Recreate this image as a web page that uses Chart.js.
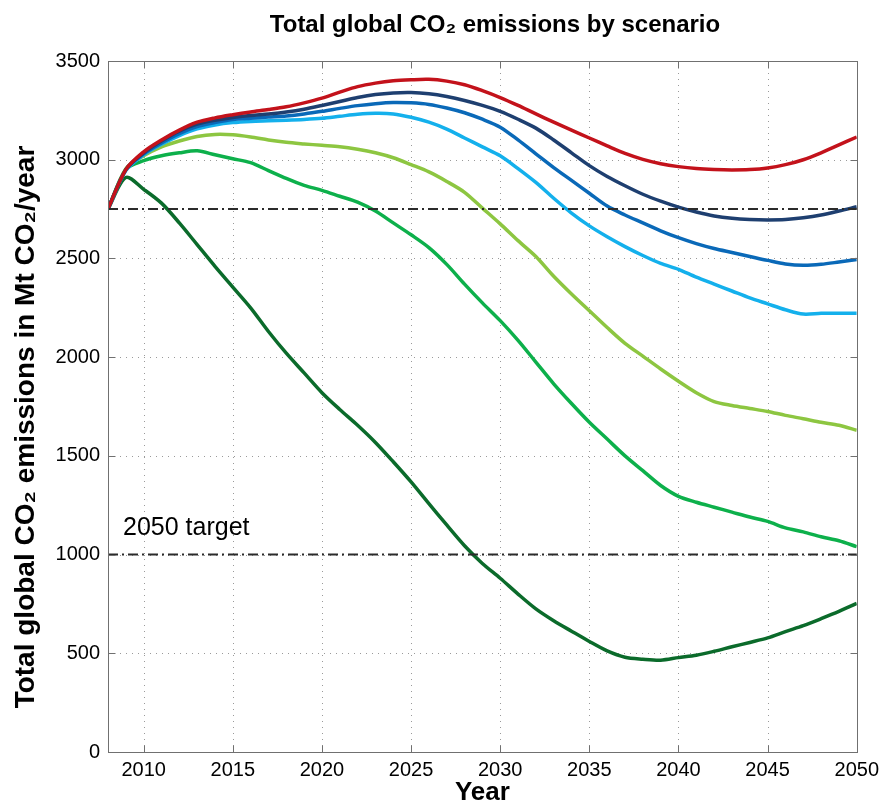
<!DOCTYPE html>
<html>
<head>
<meta charset="utf-8">
<title>Total global CO₂ emissions by scenario</title>
<script src="https://cdn.jsdelivr.net/npm/chart.js@4.4.1/dist/chart.umd.min.js"></script>
<style>
  html, body { margin: 0; padding: 0; background: #ffffff; }
  canvas { display: block; }
</style>
</head>
<body>
<canvas id="chart" width="885" height="802"></canvas>
<script>
// Years on the horizontal axis
const years = [2008, 2009, 2010, 2011, 2012, 2013, 2014, 2015, 2016, 2017,
               2018, 2019, 2020, 2021, 2022, 2023, 2024, 2025, 2026, 2027,
               2028, 2029, 2030, 2031, 2032, 2033, 2034, 2035, 2036, 2037,
               2038, 2039, 2040, 2041, 2042, 2043, 2044, 2045, 2046, 2047,
               2048, 2049, 2050];

// Total emissions per scenario, Mt CO2 / year
const scenario1 = [2750, 2950, 3040, 3100, 3150, 3190, 3212, 3228, 3242, 3254,
                   3268, 3288, 3312, 3342, 3370, 3388, 3400, 3405, 3407, 3398,
                   3380, 3350, 3315, 3275, 3232, 3190, 3150, 3110, 3070, 3032,
                   3002, 2980, 2965, 2955, 2950, 2948, 2950, 2958, 2975, 3000,
                   3035, 3075, 3115];
const scenario2 = [2750, 2950, 3035, 3095, 3145, 3180, 3200, 3214, 3224, 3232,
                   3242, 3256, 3275, 3295, 3315, 3330, 3338, 3340, 3334, 3320,
                   3300, 3275, 3245, 3205, 3160, 3100, 3035, 2970, 2915, 2868,
                   2825, 2790, 2760, 2735, 2715, 2703, 2697, 2695, 2697, 2706,
                   2720, 2740, 2762];
const scenario3 = [2750, 2950, 3030, 3085, 3132, 3168, 3188, 3203, 3210, 3216,
                   3222, 3232, 3245, 3260, 3274, 3284, 3290, 3288, 3280, 3262,
                   3238, 3205, 3165, 3100, 3030, 2960, 2895, 2830, 2765, 2720,
                   2680, 2640, 2605, 2575, 2550, 2530, 2510, 2490, 2472, 2465,
                   2470, 2482, 2495];
const scenario4 = [2750, 2945, 3025, 3078, 3122, 3156, 3176, 3188, 3194, 3197,
                   3200, 3204, 3210, 3220, 3230, 3235, 3232, 3215, 3190, 3155,
                   3110, 3065, 3020, 2955, 2885, 2805, 2730, 2665, 2610, 2560,
                   2515, 2475, 2445, 2405, 2370, 2335, 2300, 2270, 2240, 2218,
                   2222, 2222, 2222];
const scenario5 = [2750, 2955, 3020, 3065, 3095, 3118, 3128, 3126, 3115, 3100,
                   3088, 3080, 3073, 3066, 3053, 3035, 3010, 2975, 2938, 2890,
                   2835, 2755, 2675, 2590, 2510, 2410, 2320, 2235, 2150, 2070,
                   2005, 1940, 1878, 1820, 1775, 1755, 1740, 1725, 1705, 1688,
                   1670, 1655, 1630];
const scenario6 = [2750, 2950, 2995, 3020, 3035, 3045, 3025, 3005, 2985, 2945,
                   2905, 2870, 2845, 2815, 2785, 2740, 2680, 2620, 2555, 2470,
                   2370, 2275, 2185, 2085, 1975, 1865, 1765, 1670, 1585, 1500,
                   1425, 1350, 1295, 1265, 1240, 1215, 1190, 1168, 1135, 1115,
                   1090, 1070, 1040];
const scenario7 = [2750, 2910, 2850, 2780, 2680, 2570, 2460, 2355, 2250, 2130,
                   2020, 1920, 1820, 1735, 1655, 1568, 1470, 1368, 1258, 1150,
                   1045, 955, 880, 800, 725, 665, 612, 560, 512, 480,
                   470, 465, 478, 490, 510, 533, 555, 578, 610, 640,
                   675, 712, 753];

// Reference levels
const currentLevel = 2750;
const targetLevel = 1000;
const targetLabel = '2050 target';

// Tick values
const xTickValues = [2010, 2015, 2020, 2025, 2030, 2035, 2040, 2045, 2050];
const yTickValues = [0, 500, 1000, 1500, 2000, 2500, 3000, 3500];

const chartTitle = 'Total global CO₂ emissions by scenario';
const yAxisTitle = 'Total global CO₂ emissions in Mt CO₂/year';
const xAxisTitle = 'Year';

const FONT = "'Liberation Sans', Arial, Helvetica, sans-serif";

const seriesList = [
  { label: 'Scenario 1', data: scenario1, color: '#C3121B' },
  { label: 'Scenario 2', data: scenario2, color: '#1E3F70' },
  { label: 'Scenario 3', data: scenario3, color: '#0A69B8' },
  { label: 'Scenario 4', data: scenario4, color: '#14B0EC' },
  { label: 'Scenario 5', data: scenario5, color: '#8DC641' },
  { label: 'Scenario 6', data: scenario6, color: '#0DB04B' },
  { label: 'Scenario 7', data: scenario7, color: '#0B6B2B' }
];

// Axes frame, inner tick marks, dotted grid and reference lines
const framePlugin = {
  id: 'axesFrame',
  beforeDatasetsDraw(chart) {
    const { ctx, chartArea: a, scales: { x, y } } = chart;
    ctx.save();
    ctx.strokeStyle = '#9a9a9a';
    ctx.lineWidth = 1;
    ctx.setLineDash([1, 5]);
    xTickValues.forEach(v => {
      const px = Math.round(x.getPixelForValue(v)) + 0.5;
      if (px > a.left + 2 && px < a.right - 2) {
        ctx.beginPath(); ctx.moveTo(px, a.bottom); ctx.lineTo(px, a.top); ctx.stroke();
      }
    });
    yTickValues.forEach(v => {
      const py = Math.round(y.getPixelForValue(v)) + 0.5;
      if (py > a.top + 2 && py < a.bottom - 2) {
        ctx.beginPath(); ctx.moveTo(a.left, py); ctx.lineTo(a.right, py); ctx.stroke();
      }
    });
    ctx.restore();
  },
  afterDatasetsDraw(chart) {
    const { ctx, chartArea: a, scales: { x, y } } = chart;
    ctx.save();
    // dash-dot reference levels
    ctx.strokeStyle = '#2b2b2b';
    ctx.lineWidth = 2;
    ctx.setLineDash([10, 4, 2, 4]);
    [currentLevel, targetLevel].forEach(v => {
      const py = y.getPixelForValue(v);
      ctx.beginPath(); ctx.moveTo(a.left, py); ctx.lineTo(a.right, py); ctx.stroke();
    });
    ctx.setLineDash([]);

    // box
    const L = Math.round(a.left) + 0.5, R = Math.round(a.right) + 0.5;
    const T = Math.round(a.top) + 0.5, B = Math.round(a.bottom) + 0.5;
    ctx.strokeStyle = '#707070';
    ctx.lineWidth = 1;
    ctx.strokeRect(L, T, R - L, B - T);

    // inner ticks on all four sides
    const tl = 7;
    ctx.beginPath();
    xTickValues.forEach(v => {
      const px = Math.round(x.getPixelForValue(v)) + 0.5;
      ctx.moveTo(px, B); ctx.lineTo(px, B - tl);
      ctx.moveTo(px, T); ctx.lineTo(px, T + tl);
    });
    yTickValues.forEach(v => {
      const py = Math.round(y.getPixelForValue(v)) + 0.5;
      ctx.moveTo(L, py); ctx.lineTo(L + tl, py);
      ctx.moveTo(R, py); ctx.lineTo(R - tl, py);
    });
    ctx.stroke();

    // target annotation
    ctx.fillStyle = '#000';
    ctx.font = '25px ' + FONT;
    ctx.textAlign = 'left';
    ctx.textBaseline = 'alphabetic';
    ctx.fillText(targetLabel, x.getPixelForValue(2008) + 15, y.getPixelForValue(targetLevel) - 20);
    ctx.restore();
  },
  afterDraw(chart) {
    const { ctx } = chart;
    ctx.save();
    ctx.fillStyle = '#000';
    ctx.font = 'bold 24px ' + FONT;
    ctx.textAlign = 'center';
    ctx.textBaseline = 'alphabetic';
    ctx.fillText(chartTitle, 495, 32);

    ctx.translate(34, 427);
    ctx.rotate(-Math.PI / 2);
    ctx.font = 'bold 28px ' + FONT;
    ctx.fillText(yAxisTitle, 0, 0);
    ctx.restore();
  }
};

new Chart(document.getElementById('chart'), {
  type: 'line',
  data: {
    datasets: seriesList.map(s => ({
      label: s.label,
      data: years.map((yr, i) => ({ x: yr, y: s.data[i] })),
      borderColor: s.color,
      backgroundColor: s.color,
      borderWidth: 3.5,
      pointRadius: 0,
      tension: 0.3,
      fill: false
    }))
  },
  options: {
    responsive: false,
    animation: false,
    devicePixelRatio: 1,
    layout: { padding: { left: 0, right: 27, top: 61, bottom: 0 } },
    plugins: {
      legend: { display: false },
      title: { display: false },
      tooltip: { enabled: false }
    },
    scales: {
      x: {
        type: 'linear',
        min: 2008,
        max: 2050,
        grid: { display: false, drawTicks: false },
        border: { display: false },
        afterBuildTicks: s => { s.ticks = xTickValues.map(v => ({ value: v })); },
        afterFit: s => { s.height = 50; },
        ticks: {
          font: { family: FONT, size: 20 },
          color: '#000',
          padding: 6,
          maxRotation: 0,
          autoSkip: false,
          callback: v => String(v)
        },
        title: {
          display: true,
          text: xAxisTitle,
          color: '#000',
          font: { family: FONT, size: 26, weight: 'bold', lineHeight: 1 },
          padding: { top: 0, bottom: -4 }
        }
      },
      y: {
        type: 'linear',
        min: 0,
        max: 3500,
        grid: { display: false, drawTicks: false },
        border: { display: false },
        afterBuildTicks: s => { s.ticks = yTickValues.map(v => ({ value: v })); },
        afterFit: s => { s.width = 108; },
        ticks: {
          font: { family: FONT, size: 20 },
          color: '#000',
          padding: 8,
          autoSkip: false,
          callback: v => String(v)
        }
      }
    }
  },
  plugins: [framePlugin]
});
</script>
</body>
</html>
